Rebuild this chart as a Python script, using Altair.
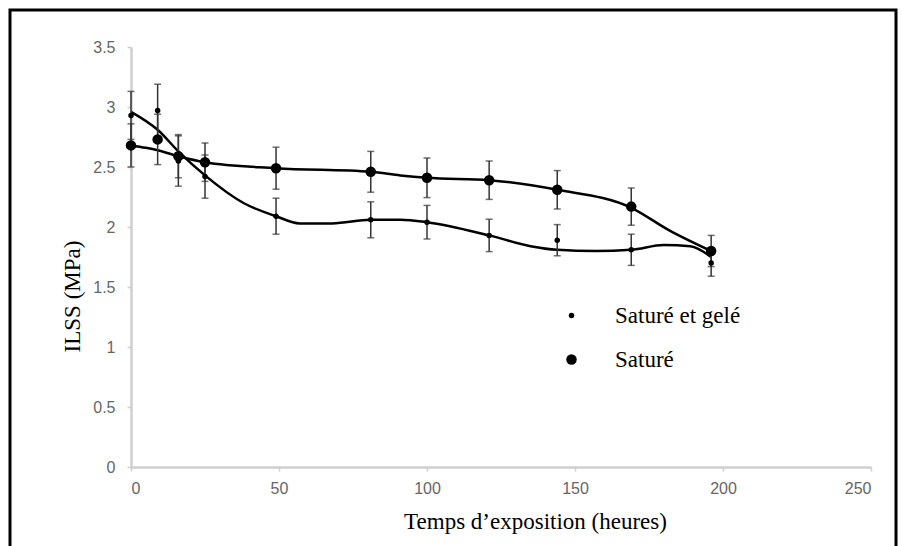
import altair as alt
import pandas as pd

# ---- data ----
times = [0, 9, 16, 25, 49, 81, 100, 121, 144, 169, 196]
gel = [2.93, 2.97, 2.55, 2.42, 2.09, 2.06, 2.04, 1.93, 1.89, 1.81, 1.70]
gel_err = [0.20, 0.22, 0.21, 0.18, 0.15, 0.15, 0.14, 0.135, 0.13, 0.13, 0.11]
sat = [2.68, 2.73, 2.59, 2.54, 2.49, 2.46, 2.41, 2.39, 2.31, 2.17, 1.80]
sat_err = [0.18, 0.21, 0.18, 0.16, 0.175, 0.17, 0.165, 0.16, 0.16, 0.155, 0.13]

# smoothed curves as drawn in the figure
gel_fit_t = [0, 9, 16, 25, 38, 49, 57, 68, 81, 91, 100, 121, 135, 144, 157, 169, 180, 189, 196]
gel_fit = [2.96, 2.81, 2.63, 2.43, 2.20, 2.09, 2.03, 2.03, 2.06, 2.06, 2.04, 1.93, 1.84, 1.81, 1.80, 1.81, 1.85, 1.84, 1.75]
sat_fit_t = [0, 5, 9, 16, 25, 49, 81, 91, 100, 121, 144, 169, 182, 196]
sat_fit = [2.68, 2.66, 2.64, 2.59, 2.54, 2.49, 2.46, 2.43, 2.41, 2.39, 2.31, 2.16, 1.97, 1.80]

series = ["Saturé et gelé", "Saturé"]
x_ticks = [0, 50, 100, 150, 200, 250]
y_ticks = [0, 0.5, 1, 1.5, 2, 2.5, 3, 3.5]

rows = []
for name, vals, errs in [(series[0], gel, gel_err), (series[1], sat, sat_err)]:
    for t, v, e in zip(times, vals, errs):
        rows.append({"t": t, "v": v, "lo": v - e, "hi": v + e, "serie": name})
pts = pd.DataFrame(rows)

fit_rows = []
for name, ts, vs in [(series[0], gel_fit_t, gel_fit), (series[1], sat_fit_t, sat_fit)]:
    for t, v in zip(ts, vs):
        fit_rows.append({"t": t, "v": v, "serie": name})
fit = pd.DataFrame(fit_rows)

xs = alt.Scale(domain=[0, 250], nice=False)
ys = alt.Scale(domain=[0, 3.5], nice=False)

x_axis = alt.Axis(values=x_ticks, title="Temps d’exposition (heures)",
                  titleX=404, titleY=54, titleBaseline="middle", labelPadding=9)
y_axis = alt.Axis(values=y_ticks, format=".1~f", title="ILSS (MPa)",
                  titleX=-59, titleY=249, titleBaseline="middle", titleAngle=-90,
                  labelPadding=12)

X = alt.X("t:Q", scale=xs, axis=x_axis)
Y = alt.Y("v:Q", scale=ys, axis=y_axis)

frame = alt.Chart(pd.DataFrame({"k": [1]})).mark_rect(
    fill="transparent", stroke="black", strokeWidth=3
).encode(x=alt.value(-121), x2=alt.value(765), y=alt.value(-37), y2=alt.value(540))

lines = alt.Chart(fit).mark_line(interpolate="monotone", color="black", strokeWidth=2.5).encode(
    x=X, y=Y, detail="serie:N"
)

rules = alt.Chart(pts).mark_rule(color="#333", strokeWidth=1.5).encode(
    x=alt.X("t:Q", scale=xs), y=alt.Y("lo:Q", scale=ys), y2="hi:Q"
)
cap_lo = alt.Chart(pts).mark_tick(orient="horizontal", size=7, thickness=1.5, color="#333").encode(
    x=alt.X("t:Q", scale=xs), y=alt.Y("lo:Q", scale=ys)
)
cap_hi = alt.Chart(pts).mark_tick(orient="horizontal", size=7, thickness=1.5, color="#333").encode(
    x=alt.X("t:Q", scale=xs), y=alt.Y("hi:Q", scale=ys)
)

points = alt.Chart(pts).mark_circle(color="black", opacity=1).encode(
    x=X, y=Y,
    size=alt.Size("serie:N", scale=alt.Scale(domain=series, range=[30, 110]),
                  legend=alt.Legend(title=None, orient="none", legendX=429, legendY=257,
                                    labelFont="Liberation Serif", labelFontSize=23,
                                    labelColor="black", labelOffset=32, rowPadding=20,
                                    symbolFillColor="black", symbolStrokeWidth=0,
                                    symbolOpacity=1, padding=0, offset=0)),
)

chart = alt.layer(frame, lines, rules, cap_lo, cap_hi, points).properties(
    width=740, height=420,
    autosize=alt.AutoSizeParams(type="none"),
    padding={"left": 131, "top": 47, "right": 31, "bottom": 79},
    background="white",
).configure_view(stroke=None).configure_axis(
    grid=False,
    domainColor="#cfcfcf", domainWidth=2.5,
    tickColor="#cfcfcf", tickSize=4, tickWidth=1.5,
    labelColor="#666666", labelFont="Liberation Sans", labelFontSize=16,
    titleFont="Liberation Serif", titleFontSize=23, titleFontWeight="normal", titleColor="black",
)

chart.save("out.html", embed_options={"renderer": "svg", "actions": False})
